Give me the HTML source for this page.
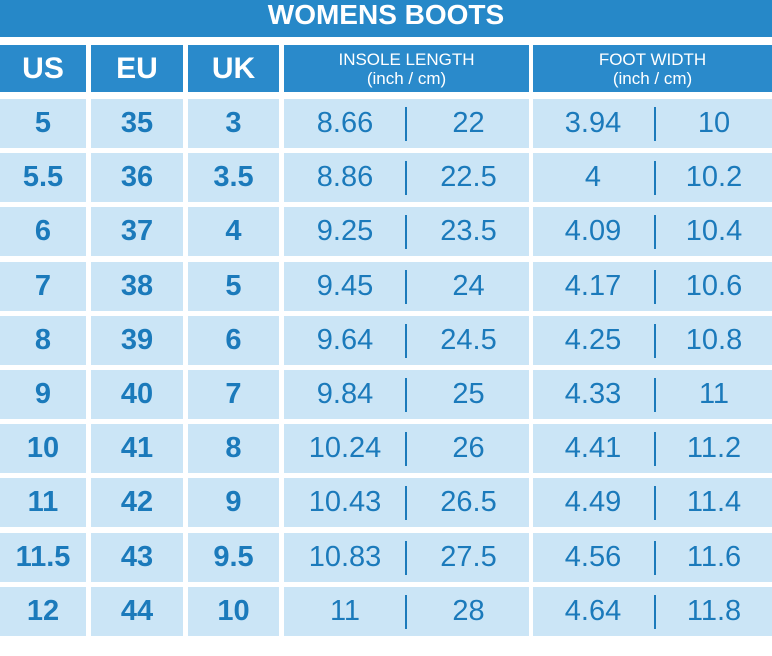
<!DOCTYPE html>
<html><head><meta charset="utf-8"><style>
body{margin:0;width:772px;height:656px;background:#fff;position:relative;overflow:hidden;font-family:"Liberation Sans",sans-serif}
.t{position:absolute;left:0;top:0;width:772px;height:37px;background:#2688c8;color:#fff;font-weight:bold;font-size:28px;text-align:center;line-height:30px}
.c{position:absolute;display:flex;align-items:center;justify-content:center;color:#1b7abb;font-size:29px}
.h{background:#2a8acb;color:#fff;font-weight:bold;font-size:30px}
.h2{font-weight:normal;font-size:17px;line-height:19px;text-align:center;flex-direction:column}
.d{background:#cbe5f6}
.b{font-weight:bold}
.v{position:absolute;width:2px;height:34px;background:#1b7abb}
</style></head><body>
<div class="t">WOMENS BOOTS</div>
<div class="c h" style="left:0;top:45px;width:86px;height:47px">US</div>
<div class="c h" style="left:91px;top:45px;width:92px;height:47px">EU</div>
<div class="c h" style="left:188px;top:45px;width:91px;height:47px">UK</div>
<div class="c h h2" style="left:284px;top:45px;width:245px;height:47px"><span>INSOLE LENGTH</span><span>(inch / cm)</span></div>
<div class="c h h2" style="left:533px;top:45px;width:239px;height:47px"><span>FOOT WIDTH</span><span>(inch / cm)</span></div>
<div id="rows"></div>
<script>
var d=[["5","35","3","8.66","22","3.94","10"],["5.5","36","3.5","8.86","22.5","4","10.2"],["6","37","4","9.25","23.5","4.09","10.4"],["7","38","5","9.45","24","4.17","10.6"],["8","39","6","9.64","24.5","4.25","10.8"],["9","40","7","9.84","25","4.33","11"],["10","41","8","10.24","26","4.41","11.2"],["11","42","9","10.43","26.5","4.49","11.4"],["11.5","43","9.5","10.83","27.5","4.56","11.6"],["12","44","10","11","28","4.64","11.8"]];
var h="";
d.forEach(function(r,i){var y=Math.round(99+i*54.2),H=49;
function c(x,w,t,cls,bg){h+='<div class="c '+cls+'" style="left:'+x+'px;top:'+y+'px;width:'+w+'px;height:'+H+'px'+(bg?'':';background:none')+'">'+t+'</div>';}
c(0,86,r[0],"d b",1);c(91,92,r[1],"d b",1);c(188,91,r[2],"d b",1);
h+='<div class="c d" style="left:284px;top:'+y+'px;width:245px;height:'+H+'px"></div>';
h+='<div class="c d" style="left:533px;top:'+y+'px;width:239px;height:'+H+'px"></div>';
c(284,122,r[3],"",0);c(408,121,r[4],"",0);c(533,120,r[5],"",0);c(656,116,r[6],"",0);
h+='<div class="v" style="left:405px;top:'+(y+8)+'px"></div><div class="v" style="left:654px;top:'+(y+8)+'px"></div>';});
document.getElementById("rows").innerHTML=h;
</script>
</body></html>
